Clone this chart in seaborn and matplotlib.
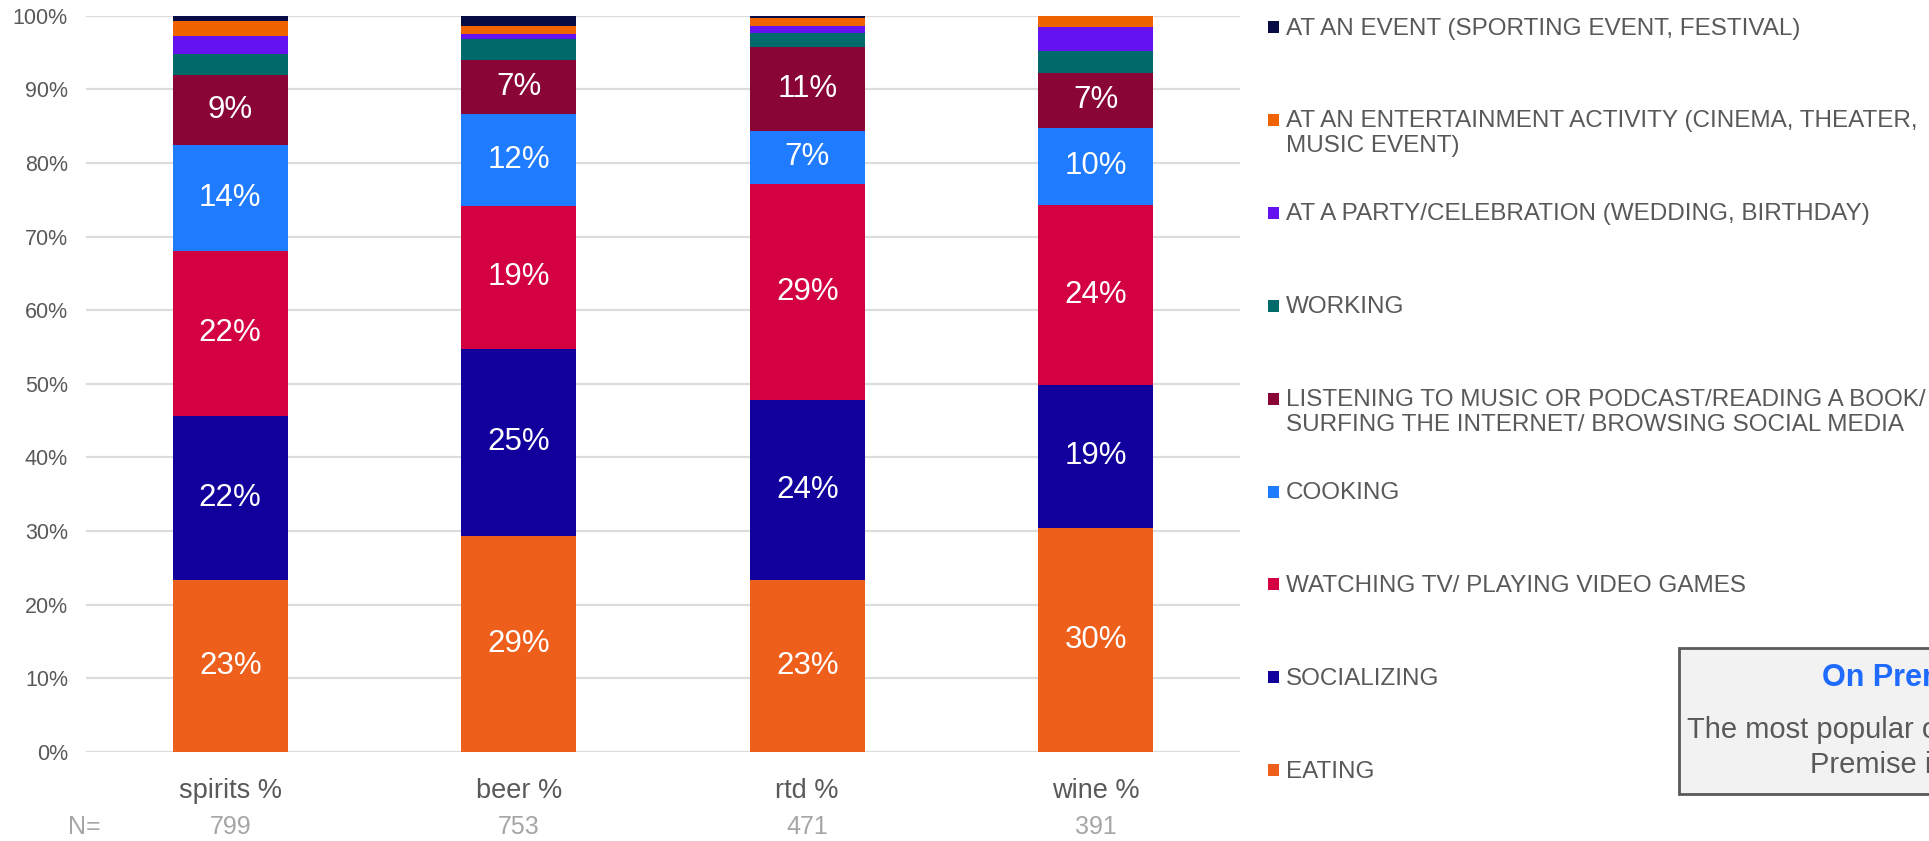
import numpy as np
import pandas as pd
import matplotlib
matplotlib.use("Agg")
import matplotlib.pyplot as plt
from matplotlib.patches import Rectangle
from matplotlib.transforms import blended_transform_factory
import seaborn as sns

# ---- data -----------------------------------------------------------------
drinks = ["spirits %", "beer %", "rtd %", "wine %"]
sample_n = [799, 753, 471, 391]

# occasions, listed from the bottom of each stack to the top
occasions = [
    "EATING",
    "SOCIALIZING",
    "WATCHING TV/ PLAYING VIDEO GAMES",
    "COOKING",
    "LISTENING TO MUSIC OR PODCAST/READING A BOOK/\nSURFING THE INTERNET/ BROWSING SOCIAL MEDIA",
    "WORKING",
    "AT A PARTY/CELEBRATION (WEDDING, BIRTHDAY)",
    "AT AN ENTERTAINMENT ACTIVITY (CINEMA, THEATER,\nMUSIC EVENT)",
    "AT AN EVENT (SPORTING EVENT, FESTIVAL)",
]

eating = [23.3, 29.4, 23.4, 30.45]
socializing = [22.4, 25.4, 24.4, 19.45]
watching_tv = [22.4, 19.4, 29.3, 24.45]
cooking = [14.4, 12.4, 7.3, 10.45]
listening = [9.4, 7.4, 11.4, 7.45]
working = [2.9, 2.9, 1.9, 3.0]
party = [2.5, 0.6, 0.9, 3.2]
entertainment = [2.0, 1.1, 1.1, 1.55]
event = [0.7, 1.4, 0.3, 0.0]

series = [eating, socializing, watching_tv, cooking, listening,
          working, party, entertainment, event]

colors = ["#EE5F1B", "#12009C", "#D30042", "#1F7BFF", "#880536",
          "#006B6A", "#6512F0", "#F06400", "#080C45"]

# only the five largest occasions carry value labels
labelled = 5

# ---- style ----------------------------------------------------------------
sns.set_theme(style="white")
plt.rcParams["font.family"] = ["Liberation Sans", "DejaVu Sans"]
grey = "#595959"

W, H = 1929, 841
fig = plt.figure(figsize=(W / 100, H / 100), dpi=100)
ax_left, ax_right, ax_top, ax_bottom = 86, 1240, 15.7, 752
ax = fig.add_axes([ax_left / W, 1 - ax_bottom / H,
                   (ax_right - ax_left) / W, (ax_bottom - ax_top) / H])

# ---- stacked bars ---------------------------------------------------------
bottom = np.zeros(len(drinks))
for i, (vals, col) in enumerate(zip(series, colors)):
    df = pd.DataFrame({"drink": drinks, "share": vals})
    sns.barplot(data=df, x="drink", y="share", order=drinks, color=col,
                saturation=1, width=0.4, errorbar=None, bottom=bottom,
                linewidth=0, ax=ax, zorder=3)
    if i < labelled:
        ax.bar_label(ax.containers[-1],
                     labels=[f"{v:.0f}%" for v in vals],
                     label_type="center", color="white", fontsize=22.5)
    bottom = bottom + np.array(vals)

# ---- axes -----------------------------------------------------------------
ax.set_xlim(-0.5, len(drinks) - 0.5)
ax.set_ylim(0, 100)
ax.set_yticks(np.arange(0, 101, 10))
ax.set_yticklabels([f"{t}%" for t in range(0, 101, 10)])
ax.tick_params(axis="y", length=0, pad=13, labelsize=15.5, labelcolor=grey)
ax.tick_params(axis="x", length=0, pad=19, labelsize=19.5, labelcolor=grey)
ax.set_xlabel("")
ax.set_ylabel("")
ax.grid(axis="y", color="#DCDCDC", linewidth=1.6, zorder=0)
ax.grid(axis="x", visible=False)
for s in ax.spines.values():
    s.set_visible(False)

# sample sizes beneath the category labels
tr = blended_transform_factory(ax.transData, ax.transAxes)
n_y = -(827 - ax_bottom) / (ax_bottom - ax_top)
ax.text(-0.507, n_y, "N=", transform=tr, ha="center", va="center",
        fontsize=18, color="#A6A6A6")
for i, n in enumerate(sample_n):
    ax.text(i, n_y, str(n), transform=tr, ha="center", va="center",
            fontsize=18, color="#A6A6A6")

# ---- legend (top entry = top of stack) -----------------------------------
leg_x_box, leg_x_text = 1268, 1286
leg_y0, leg_step = 27, 92.9
for k, idx in enumerate(range(len(occasions) - 1, -1, -1)):
    yc = leg_y0 + k * leg_step
    fig.add_artist(Rectangle((leg_x_box / W, 1 - (yc + 6) / H), 11 / W, 12 / H,
                             transform=fig.transFigure, color=colors[idx],
                             lw=0))
    fig.text(leg_x_text / W, 1 - (yc - 9.5) / H, occasions[idx],
             ha="left", va="top", fontsize=17.5, color=grey, linespacing=1.15)

# ---- call-out box ---------------------------------------------------------
fig.add_artist(Rectangle((1679 / W, 1 - 794 / H), 400 / W, 146 / H,
                         transform=fig.transFigure, facecolor="#F2F2F2",
                         edgecolor=grey, linewidth=2))
fig.text(1822 / W, 1 - 678 / H, "On Premise", ha="left", va="center",
         fontsize=22, fontweight="bold", color="#1F6AFF")
fig.text(1687 / W, 1 - 730 / H, "The most popular occasion", ha="left",
         va="center", fontsize=21, color=grey)
fig.text(1810 / W, 1 - 765 / H, "Premise is", ha="left", va="center",
         fontsize=21, color=grey)

fig.savefig("out.png", dpi=100)
